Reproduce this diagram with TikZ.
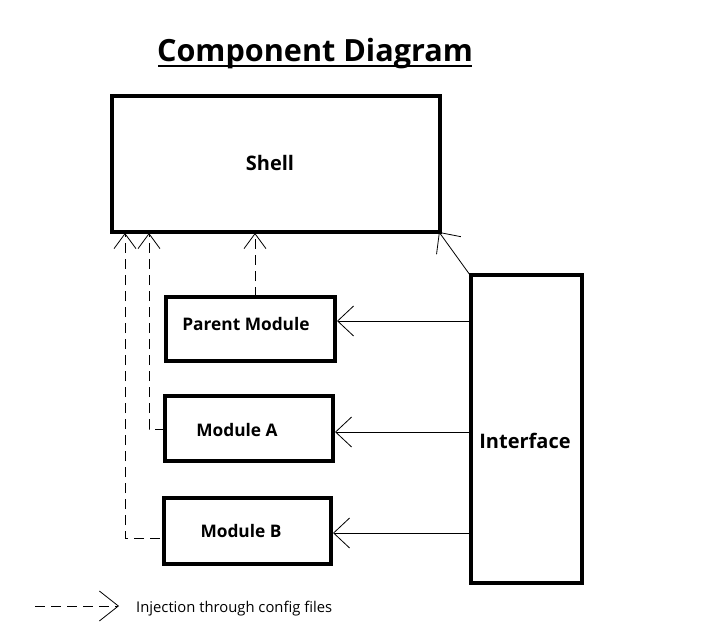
\documentclass[tikz,border=0pt]{standalone}
\usepackage{fontspec}
\setmainfont{Open Sans}
\usetikzlibrary{arrows.meta}
\begin{document}
\begin{tikzpicture}[x=1pt,y=-1pt,
  box/.style={draw=black,line width=4pt,fill=white,inner sep=0pt},
  lbl/.style={font=\bfseries\fontsize{17.3}{20}\selectfont,inner sep=0pt},
  dep/.style={draw=black,line width=0.8pt,dash pattern=on 10pt off 6pt,-{Straight Barb[length=15pt,width=22pt,line width=0.8pt]}},
  use/.style={draw=black,line width=0.8pt,-{Straight Barb[length=16pt,width=30pt,line width=0.8pt]}}]
\useasboundingbox (0,0) rectangle (715,631);
% title
\node[inner sep=0pt,font=\bfseries\fontsize{30.6}{36}\selectfont,anchor=base] (title) at (315,62) {Component Diagram};
\draw[line width=2.5pt] (158,66) -- (472,66);
% boxes
\node[box,minimum width=328pt,minimum height=136pt] (shell) at (276,164) {};
\node[lbl,font=\bfseries\fontsize{20}{24}\selectfont] (shelllbl) at (270,163) {Shell};
\node[box,minimum width=169pt,minimum height=64pt] (parent) at (250.5,329) {};
\node[lbl] (parentlbl) at (246,324) {Parent Module};
\node[box,minimum width=168pt,minimum height=65pt] (moda) at (249,428.5) {};
\node[lbl] (modalbl) at (237,430) {Module A};
\node[box,minimum width=167pt,minimum height=66pt] (modb) at (247.5,531) {};
\node[lbl] (modblbl) at (241,531) {Module B};
\node[box,minimum width=111pt,minimum height=308pt] (iface) at (526.5,429) {};
\node[lbl,font=\bfseries\fontsize{20}{24}\selectfont] (ifacelbl) at (525,441) {Interface};
% coordinates
\coordinate (sA) at (149,233);
\coordinate (sB) at (125,233);
\coordinate (sP) at (255,233);
\coordinate (sI) at (439,232);
\coordinate (cA) at (149,429);
\coordinate (cB) at (125,538);
\coordinate (aEnd) at (165,429);
\coordinate (bEnd) at (160,538);
\coordinate (pTop) at (255,297);
\coordinate (iTop) at (470,275);
% dashed injections
\draw[dep] (aEnd) -- (cA) -- (sA);
\draw[dep] (bEnd) -- (cB) -- (sB);
\draw[dep] (pTop) -- (sP);
% interface arrows
\draw[use] (470,321) -- (parent.east |- 0,321);
\draw[use] (470,432) -- (moda.east |- 0,432);
\draw[use] (470,533) -- (modb.east |- 0,533);
\draw[use] (iTop) -- (sI);
% legend
\coordinate (legS) at (35,606);
\coordinate (legE) at (119,606);
\draw[dep,-{Straight Barb[length=19pt,width=30pt,line width=0.8pt]}] (legS) -- (legE);
\node[anchor=west,inner sep=0pt,font=\fontsize{14.8}{18}\selectfont] (legtxt) at (136,609) {Injection through config files};
\end{tikzpicture}
\end{document}
